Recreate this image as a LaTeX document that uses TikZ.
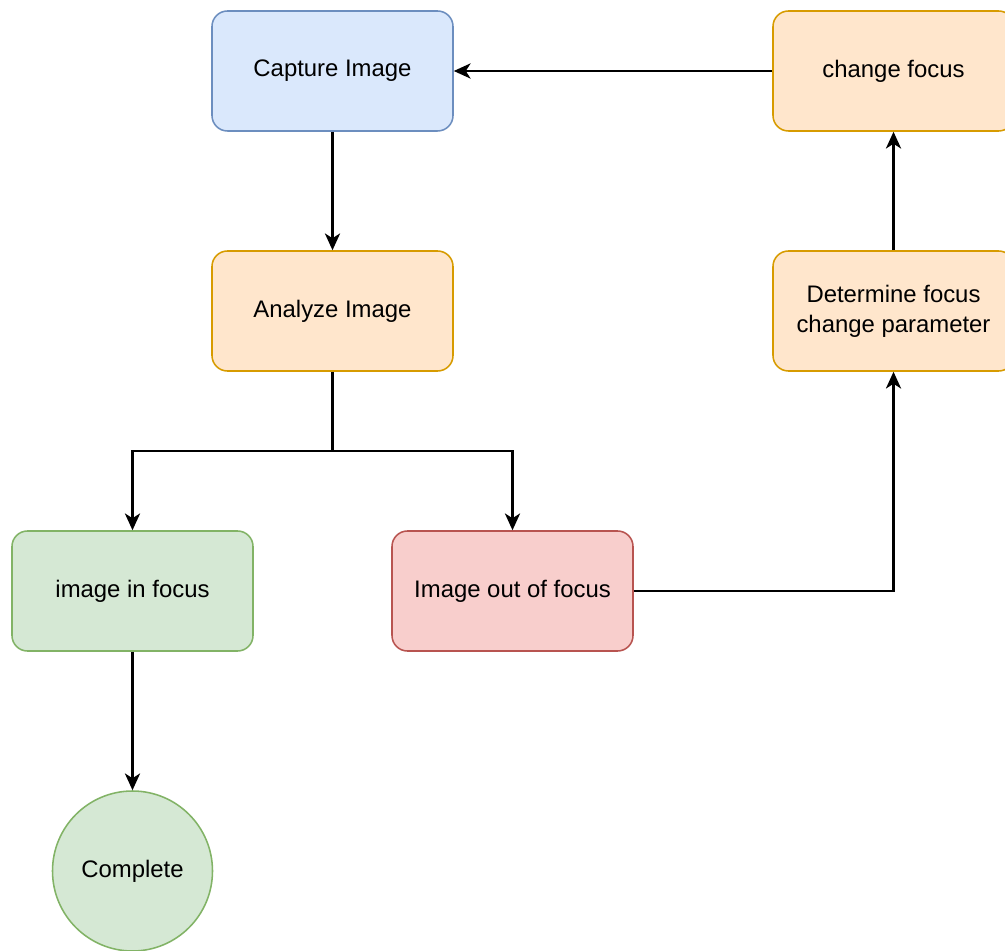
\documentclass[tikz,border=0pt]{standalone}
\usepackage{fontspec}
\setmainfont{Liberation Sans}
\usepackage{xcolor}
\definecolor{dioblue}{HTML}{DAE8FC}
\definecolor{dioblueline}{HTML}{6C8EBF}
\definecolor{dioorange}{HTML}{FFE6CC}
\definecolor{dioorangeline}{HTML}{D79B00}
\definecolor{diogreen}{HTML}{D5E8D4}
\definecolor{diogreenline}{HTML}{82B366}
\definecolor{diored}{HTML}{F8CECC}
\definecolor{dioredline}{HTML}{B85450}
\usetikzlibrary{arrows.meta, positioning, calc}

\tikzset{
  procbox/.style={rectangle, rounded corners=11pt, line width=1.1pt,
                  minimum width=6.025cm, minimum height=3cm, align=center,
                  font=\fontsize{17}{21.3}\selectfont},
  endstate/.style={circle, line width=1.1pt, minimum size=4cm,
                   font=\fontsize{17}{21.3}\selectfont},
  flow/.style={-{Stealth[length=4.2mm, width=3.8mm, inset=1.2mm]}, line width=1.5pt}
}

\begin{document}
\begin{tikzpicture}

\useasboundingbox (0,0) rectangle (25.125,23.75);

% --- Main loop nodes ---
\node[procbox, draw=dioblueline, fill=dioblue] (capture) at (8.3125,21.975) {Capture Image};
\node[procbox, draw=dioorangeline, fill=dioorange] (analyze) at (8.3125,15.975) {Analyze Image};
\node[procbox, draw=dioorangeline, fill=dioorange] (changefocus) at (22.3375,21.975) {change focus};
\node[procbox, draw=dioorangeline, fill=dioorange] (determine) at (22.3375,15.975) {Determine focus\\change parameter};

% --- Outcomes ---
\node[procbox, draw=diogreenline, fill=diogreen] (infocus) at (3.3125,8.975) {image in focus};
\node[procbox, draw=dioredline, fill=diored] (outfocus) at (12.8125,8.975) {Image out of focus};
\node[endstate, draw=diogreenline, fill=diogreen] (complete) at (3.3125,1.975) {Complete};

% --- Connectors ---
\coordinate (split) at (analyze.south |- 0,12.475);
\draw[flow] (capture) -- (analyze);
\draw[line width=1.5pt] (analyze.south) -- (split);
\draw[flow] (split) -| (infocus.north);
\draw[flow] (split) -| (outfocus.north);
\draw[flow] (infocus) -- (complete);
\draw[flow] (outfocus.east) -| (determine.south);
\draw[flow] (determine) -- (changefocus);
\draw[flow] (changefocus) -- (capture);

\end{tikzpicture}
\end{document}
